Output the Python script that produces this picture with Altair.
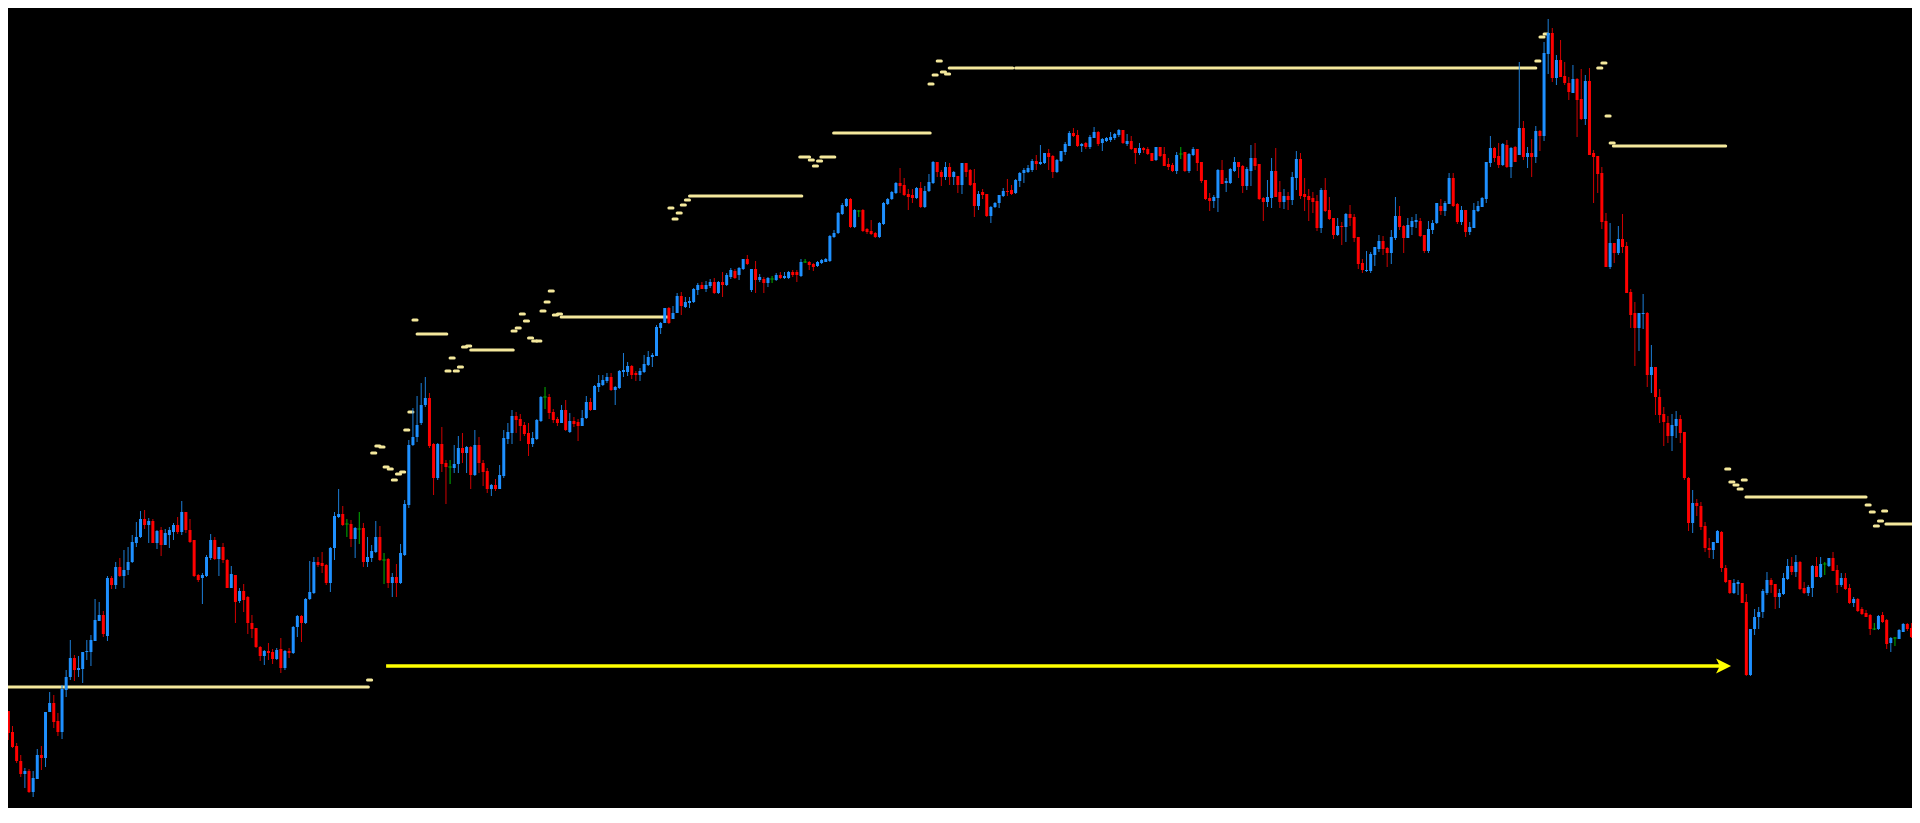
import numpy as np
import pandas as pd
import altair as alt

# ---- candle data (one entry per bar, bar 0 .. 463) ----
opens = [
    300, 289, 268, 254, 239, 226, 229, 208, 221, 245,
    242, 288, 297, 279, 268, 310, 323, 342, 330, 331,
    348, 348, 359, 379, 385, 364, 422, 415, 433, 424,
    430, 438, 457, 463, 481, 475, 479, 457, 470, 455,
    465, 468, 475, 468, 488, 470, 460, 425, 422, 424,
    442, 460, 441, 453, 440, 412, 425, 399, 409, 403,
    377, 372, 353, 344, 349, 348, 341, 351, 332, 349,
    347, 373, 384, 377, 401, 407, 438, 437, 435, 417,
    452, 483, 486, 476, 476, 461, 471, 472, 438, 442,
    448, 463, 440, 441, 417, 423, 417, 445, 495, 555,
    563, 577, 595, 602, 556, 522, 556, 537, 533, 532,
    536, 552, 547, 553, 525, 555, 537, 529, 511, 515,
    511, 524, 561, 567, 584, 581, 575, 567, 556, 561,
    579, 603, 603, 588, 581, 577, 590, 568, 579, 578,
    574, 582, 598, 590, 613, 615, 619, 623, 610, 612,
    628, 628, 634, 627, 625, 628, 635, 643, 644, 672,
    677, 692, 681, 687, 704, 693, 697, 698, 710, 715,
    711, 714, 718, 707, 718, 715, 723, 729, 725, 731,
    741, 710, 731, 720, 721, 717, 721, 720, 725, 722,
    722, 728, 728, 724, 738, 738, 736, 734, 737, 738,
    739, 763, 767, 786, 794, 801, 773, 789, 790, 771,
    769, 767, 763, 776, 796, 801, 807, 817, 815, 806,
    805, 802, 812, 793, 809, 817, 838, 828, 823, 833,
    823, 824, 815, 837, 830, 817, 794, 808, 806, 784,
    793, 797, 804, 809, 810, 807, 819, 827, 828, 830,
    839, 836, 837, 847, 844, 828, 839, 848, 854, 867,
    865, 854, 857, 853, 862, 868, 857, 859, 860, 862,
    865, 870, 856, 859, 852, 847, 852, 851, 847, 840,
    853, 846, 836, 835, 829, 846, 848, 829, 845, 851,
    838, 820, 802, 799, 802, 830, 817, 817, 829, 838,
    834, 814, 829, 842, 836, 802, 798, 802, 829, 808,
    798, 804, 800, 822, 841, 806, 804, 802, 799, 772,
    810, 790, 782, 765, 774, 773, 786, 783, 763, 737,
    729, 729, 745, 751, 759, 752, 747, 762, 784, 774,
    762, 773, 778, 779, 765, 749, 770, 777, 794, 789,
    796, 822, 796, 778, 790, 768, 772, 789, 793, 801,
    837, 852, 844, 835, 855, 833, 853, 845, 872, 843,
    847, 843, 869, 864, 946, 967, 922, 940, 924, 917,
    907, 921, 901, 881, 919, 847, 844, 827, 779, 733,
    757, 747, 761, 754, 708, 687, 672, 686, 687, 625,
    633, 603, 586, 577, 564, 574, 581, 568, 522, 477,
    497, 494, 474, 452, 450, 457, 468, 432, 420, 407,
    416, 417, 398, 325, 371, 383, 388, 407, 420, 416,
    403, 406, 421, 434, 428, 438, 412, 407, 412, 434,
    423, 436, 434, 442, 430, 415, 422, 412, 397, 401,
    391, 387, 385, 371, 371, 385, 380, 357, 362, 361,
    368, 376, 372, 363,
]
highs = [
    302, 289, 274, 257, 245, 232, 231, 229, 251, 254,
    288, 308, 305, 287, 315, 330, 360, 345, 344, 348,
    360, 365, 401, 398, 389, 424, 424, 438, 442, 450,
    453, 465, 478, 489, 490, 482, 481, 470, 473, 471,
    473, 477, 483, 499, 488, 481, 460, 426, 427, 445,
    466, 463, 453, 457, 441, 434, 425, 412, 416, 404,
    385, 372, 354, 350, 357, 351, 352, 362, 350, 352,
    374, 385, 385, 402, 439, 443, 443, 448, 436, 453,
    488, 511, 494, 481, 480, 473, 488, 477, 463, 455,
    479, 474, 447, 442, 427, 436, 456, 500, 560, 592,
    604, 617, 623, 607, 557, 557, 573, 540, 540, 555,
    564, 567, 554, 554, 570, 563, 540, 532, 516, 521,
    535, 570, 577, 590, 588, 586, 578, 577, 568, 581,
    604, 613, 606, 591, 583, 595, 600, 587, 583, 581,
    590, 604, 602, 615, 625, 625, 627, 627, 614, 630,
    647, 638, 635, 629, 632, 645, 649, 647, 675, 678,
    692, 693, 694, 707, 708, 703, 703, 712, 717, 718,
    719, 721, 722, 719, 728, 727, 732, 731, 733, 741,
    745, 731, 739, 726, 723, 723, 724, 727, 728, 728,
    729, 730, 730, 741, 741, 739, 737, 739, 741, 742,
    765, 770, 788, 797, 802, 802, 791, 790, 791, 772,
    780, 768, 778, 798, 802, 809, 818, 832, 822, 811,
    811, 813, 818, 814, 826, 839, 838, 830, 838, 837,
    829, 824, 837, 837, 831, 831, 809, 811, 806, 794,
    798, 805, 812, 821, 815, 821, 828, 832, 835, 841,
    845, 855, 847, 851, 845, 841, 849, 858, 869, 872,
    870, 857, 858, 865, 873, 869, 862, 863, 868, 867,
    871, 870, 866, 864, 852, 857, 853, 853, 847, 853,
    853, 853, 842, 837, 848, 853, 848, 847, 853, 851,
    838, 820, 807, 805, 831, 840, 822, 832, 843, 838,
    835, 833, 855, 857, 836, 803, 820, 842, 852, 819,
    811, 808, 828, 849, 847, 822, 811, 808, 805, 812,
    822, 803, 782, 782, 778, 787, 795, 786, 763, 741,
    749, 748, 753, 765, 764, 753, 770, 803, 794, 775,
    782, 783, 786, 782, 765, 779, 780, 797, 801, 799,
    827, 827, 797, 794, 790, 778, 797, 799, 803, 838,
    864, 853, 857, 857, 860, 853, 854, 938, 879, 853,
    861, 874, 870, 958, 981, 972, 945, 960, 938, 923,
    935, 922, 931, 925, 932, 850, 844, 833, 787, 777,
    757, 774, 786, 758, 711, 698, 687, 706, 688, 655,
    633, 611, 593, 584, 586, 589, 585, 568, 523, 510,
    501, 498, 478, 462, 458, 470, 469, 435, 420, 421,
    420, 417, 406, 371, 391, 393, 411, 428, 422, 416,
    411, 427, 441, 443, 445, 439, 418, 415, 435, 443,
    443, 438, 442, 448, 435, 427, 427, 416, 403, 402,
    393, 390, 386, 377, 385, 388, 381, 363, 363, 371,
    377, 377, 377, 365,
]
lows = [
    288, 260, 252, 237, 223, 212, 207, 203, 221, 230,
    233, 288, 272, 264, 261, 303, 320, 319, 323, 317,
    340, 334, 359, 379, 363, 359, 411, 411, 423, 412,
    425, 437, 453, 462, 471, 457, 457, 451, 444, 455,
    452, 460, 466, 465, 467, 457, 423, 418, 396, 423,
    440, 440, 424, 437, 412, 412, 377, 397, 388, 366,
    362, 352, 339, 335, 340, 336, 340, 327, 330, 342,
    346, 363, 358, 376, 400, 406, 433, 427, 415, 408,
    440, 482, 474, 463, 453, 442, 456, 433, 433, 438,
    447, 439, 416, 412, 403, 403, 416, 444, 492, 554,
    558, 575, 593, 552, 505, 520, 528, 496, 516, 527,
    527, 537, 527, 511, 524, 527, 514, 507, 504, 509,
    511, 522, 556, 556, 567, 559, 564, 544, 553, 560,
    578, 591, 581, 577, 574, 577, 569, 567, 573, 559,
    574, 581, 589, 590, 608, 614, 617, 609, 595, 611,
    623, 624, 621, 619, 619, 627, 634, 633, 644, 666,
    677, 676, 681, 687, 685, 692, 692, 697, 705, 711,
    708, 712, 706, 706, 703, 714, 721, 721, 720, 730,
    735, 708, 707, 718, 707, 713, 717, 719, 721, 721,
    721, 723, 718, 723, 737, 730, 729, 733, 736, 738,
    738, 762, 766, 785, 793, 772, 772, 783, 768, 766,
    765, 762, 762, 775, 795, 800, 806, 807, 804, 790,
    797, 801, 792, 792, 808, 816, 823, 814, 820, 815,
    815, 807, 806, 823, 814, 783, 790, 801, 783, 777,
    792, 792, 803, 804, 805, 806, 813, 817, 827, 828,
    830, 835, 836, 830, 822, 827, 838, 845, 854, 863,
    853, 848, 851, 851, 862, 854, 849, 858, 858, 860,
    863, 856, 854, 850, 836, 845, 847, 845, 839, 839,
    843, 834, 830, 828, 826, 841, 828, 827, 844, 829,
    817, 800, 789, 792, 788, 816, 808, 816, 828, 822,
    807, 810, 814, 830, 800, 779, 793, 792, 803, 792,
    791, 790, 795, 810, 801, 789, 779, 787, 769, 767,
    788, 780, 761, 764, 755, 758, 774, 758, 731, 727,
    728, 727, 734, 748, 745, 733, 736, 760, 770, 747,
    762, 765, 772, 763, 747, 747, 766, 776, 785, 784,
    796, 793, 776, 775, 763, 765, 772, 788, 793, 797,
    833, 838, 832, 834, 832, 822, 838, 845, 840, 832,
    823, 837, 849, 859, 926, 918, 915, 923, 915, 900,
    907, 863, 880, 875, 845, 797, 807, 771, 733, 731,
    737, 745, 747, 707, 672, 634, 649, 671, 613, 607,
    585, 577, 554, 557, 549, 562, 557, 520, 469, 467,
    484, 470, 448, 442, 441, 457, 428, 417, 406, 406,
    405, 397, 324, 324, 365, 371, 382, 405, 407, 391,
    392, 405, 420, 425, 423, 410, 406, 404, 403, 423,
    422, 425, 433, 429, 407, 413, 410, 396, 393, 388,
    385, 383, 365, 370, 370, 377, 351, 348, 354, 361,
    368, 369, 362, 353,
]
closes = [
    290, 267, 253, 239, 226, 229, 208, 222, 245, 242,
    288, 297, 278, 268, 311, 323, 342, 330, 332, 348,
    349, 360, 380, 385, 366, 422, 415, 433, 424, 430,
    438, 458, 463, 481, 475, 479, 457, 469, 455, 467,
    470, 475, 468, 488, 470, 458, 424, 420, 425, 443,
    460, 441, 453, 440, 412, 426, 398, 409, 400, 377,
    371, 353, 344, 349, 347, 341, 350, 332, 349, 347,
    373, 384, 377, 401, 408, 438, 435, 434, 417, 452,
    484, 486, 475, 476, 461, 472, 471, 438, 443, 449,
    463, 440, 440, 417, 423, 417, 447, 496, 555, 563,
    575, 595, 602, 554, 522, 556, 536, 533, 533, 536,
    552, 547, 553, 525, 555, 537, 528, 511, 515, 511,
    525, 562, 568, 584, 580, 574, 566, 556, 562, 580,
    603, 603, 587, 580, 577, 590, 570, 579, 576, 574,
    582, 598, 590, 614, 617, 620, 623, 610, 613, 629,
    630, 634, 625, 625, 629, 636, 643, 645, 673, 677,
    692, 677, 687, 704, 694, 698, 699, 711, 715, 711,
    715, 718, 707, 718, 715, 725, 730, 722, 732, 741,
    736, 731, 720, 723, 717, 722, 721, 725, 722, 724,
    728, 725, 725, 738, 738, 735, 733, 738, 740, 741,
    764, 767, 787, 795, 801, 773, 790, 789, 769, 768,
    766, 763, 777, 797, 801, 808, 817, 814, 805, 803,
    802, 812, 793, 809, 818, 838, 828, 823, 833, 823,
    828, 815, 837, 828, 815, 794, 806, 805, 784, 793,
    797, 805, 809, 808, 806, 820, 827, 830, 832, 839,
    836, 838, 847, 843, 828, 840, 849, 856, 867, 864,
    854, 856, 853, 863, 868, 856, 861, 862, 863, 866,
    870, 857, 859, 851, 847, 852, 850, 846, 839, 853,
    844, 834, 833, 829, 845, 846, 829, 846, 851, 837,
    819, 801, 799, 803, 830, 816, 819, 831, 838, 833,
    814, 831, 842, 834, 801, 798, 803, 829, 803, 798,
    804, 800, 823, 841, 804, 803, 800, 798, 772, 810,
    789, 781, 765, 774, 773, 786, 782, 762, 736, 730,
    730, 746, 753, 759, 751, 747, 763, 784, 773, 762,
    775, 779, 780, 764, 749, 771, 777, 797, 789, 797,
    822, 794, 778, 790, 768, 773, 790, 794, 802, 838,
    852, 842, 835, 856, 833, 852, 838, 872, 843, 847,
    843, 869, 864, 947, 967, 922, 940, 923, 917, 908,
    921, 900, 881, 919, 845, 843, 826, 778, 733, 757,
    747, 761, 753, 707, 685, 672, 687, 687, 625, 633,
    603, 585, 578, 564, 575, 581, 567, 522, 477, 497,
    494, 473, 452, 450, 458, 469, 432, 418, 407, 417,
    418, 397, 325, 371, 383, 388, 409, 420, 415, 403,
    407, 422, 434, 428, 438, 411, 407, 413, 434, 423,
    436, 436, 442, 429, 415, 422, 411, 397, 401, 389,
    386, 383, 371, 371, 384, 378, 356, 362, 362, 370,
    376, 371, 363, 355,
]

# ---- horizontal level lines (start bar, end bar, price) ----
line_start = [-2, 100, 113, 134.9, 166, 192.7, 197.8, 200.9, 228.9, 245, 389.8, 421.9, 455.8]
line_end = [88.2, 107.2, 123.3, 160.7, 193.2, 195.1, 201.2, 224.3, 244.3, 371, 417, 451, 470]
line_price = [313, 666, 650, 683, 804, 843, 843, 867, 932, 932, 854, 503, 476]

# ---- short dash markers (bar, price) ----
dash_bar = [88, 89, 90, 91, 92, 93, 94, 95, 96, 97, 98, 99,
            107, 108, 109, 110, 111, 112,
            123, 124, 125, 126, 127, 128, 129, 130, 131, 132, 133, 134,
            161, 162, 163, 164, 165,
            195, 196, 197,
            224, 225, 226, 227, 228,
            371, 372, 373,
            386, 387, 388, 389,
            417, 418, 419, 420, 421,
            451, 452, 453, 454, 455]
dash_price = [320, 547, 554, 553, 533, 531, 520, 526, 528, 570, 588, 680,
              629, 642, 629, 633, 653, 654,
              669, 672, 686, 679, 662, 659, 659, 689, 698, 709, 685, 686,
              792, 781, 787, 795, 800,
              840, 834, 839,
              916, 925, 939, 928, 926,
              939, 963, 966,
              932, 937, 884, 857,
              531, 518, 515, 511, 520,
              495, 488, 474, 479, 489]

# ---- arrow ----
arrow_start = [92.5]
arrow_end = [418.3]
arrow_price = [334]

candles = pd.DataFrame({
    "bar": np.arange(len(closes)),
    "open": opens, "high": highs, "low": lows, "close": closes,
})
candles["dir"] = np.select(
    [candles["close"] > candles["open"], candles["close"] < candles["open"]],
    ["up", "down"], default="flat")

levels = pd.DataFrame({"start": line_start, "end": line_end, "price": line_price})
dashes = pd.DataFrame({"bar": dash_bar, "price": dash_price})
arrow = pd.DataFrame({"start": arrow_start, "end": arrow_end, "price": arrow_price})

XS = alt.Scale(domain=[2.12, 460.92], nice=False, zero=False)
YS = alt.Scale(domain=[192, 992], nice=False, zero=False)
DIRS = ["up", "down", "flat"]
KHAKI = "#F4E89C"

lvl = alt.Chart(levels).mark_rule(color=KHAKI, strokeWidth=3, strokeCap="round", clip=True).encode(
    x=alt.X("start:Q", scale=XS, axis=None),
    x2="end:Q",
    y=alt.Y("price:Q", scale=YS, axis=None),
)

dsh = alt.Chart(dashes).transform_calculate(bar_end="datum.bar + 1").mark_rule(
    color=KHAKI, strokeWidth=3, strokeCap="round", clip=True).encode(
    x=alt.X("bar:Q", scale=XS, axis=None),
    x2="bar_end:Q",
    y=alt.Y("price:Q", scale=YS, axis=None),
)

arr_line = alt.Chart(arrow).transform_calculate(stop="datum.end - 2").mark_rule(
    color="#FFFF00", strokeWidth=3.5, clip=True).encode(
    x=alt.X("start:Q", scale=XS, axis=None),
    x2="stop:Q",
    y=alt.Y("price:Q", scale=YS, axis=None),
)

arr_head = alt.Chart(arrow).mark_point(
    shape="M0,0 L-2,-1 L-1.5,0 L-2,1 Z", filled=True, size=225,
    color="#FFFF00", opacity=1, strokeWidth=0).encode(
    x=alt.X("end:Q", scale=XS, axis=None),
    y=alt.Y("price:Q", scale=YS, axis=None),
)

wicks = alt.Chart(candles).mark_rule(strokeWidth=1, clip=True).encode(
    x=alt.X("bar:Q", scale=XS, axis=None),
    y=alt.Y("low:Q", scale=YS, axis=None),
    y2="high:Q",
    color=alt.Color("dir:N", legend=None,
                    scale=alt.Scale(domain=DIRS, range=["#1C7ED8", "#D00000", "#00B000"])),
)

bodies = alt.Chart(candles).transform_filter("datum.dir != 'flat'").mark_bar(size=3, clip=True).encode(
    x=alt.X("bar:Q", scale=XS, axis=None),
    y=alt.Y("open:Q", scale=YS, axis=None),
    y2="close:Q",
    color=alt.Color("dir:N", legend=None,
                    scale=alt.Scale(domain=DIRS, range=["#1E90FF", "#FF0000", "#00C000"])),
)

doji = alt.Chart(candles).transform_filter("datum.dir == 'flat'").mark_tick(
    orient="horizontal", size=4, thickness=1, color="#00C000", clip=True).encode(
    x=alt.X("bar:Q", scale=XS, axis=None),
    y=alt.Y("close:Q", scale=YS, axis=None),
)

chart = alt.layer(lvl, dsh, arr_line, arr_head, wicks, bodies, doji).resolve_scale(
    color="independent"
).properties(
    width=1904, height=800,
    autosize=alt.AutoSizeParams(type="fit", contains="padding"),
    padding=0,
    background="#000000",
).configure_view(strokeWidth=0)

chart.save("out.html", embed_options={"renderer": "svg", "actions": False})
